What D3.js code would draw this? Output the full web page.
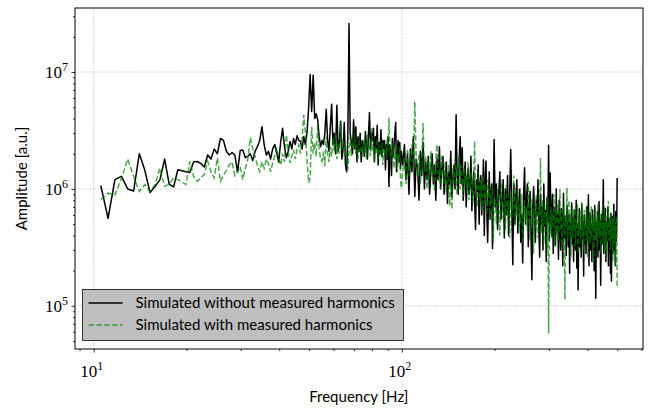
<!DOCTYPE html>
<html>
<head>
<meta charset="utf-8">
<script src="https://cdn.jsdelivr.net/npm/d3@7"></script>
<style>
  html, body { margin: 0; padding: 0; background: #fff; }
  svg { display: block; }
  .lbl { font-family: Lato, "Noto Sans", sans-serif; fill: #000; }
  .tick-lbl { font-family: "Liberation Serif", "DejaVu Serif", serif; fill: #000; }
</style>
</head>
<body>
<div class="svg"></div>
<script>
// spectrum bins (resolution in Hz), sampled more sparsely at high frequency
const binWidth = 0.586;
const binsLow = d3.range(18, 171);
const binsMid = d3.range(172, 341, 2);
const binsHigh = d3.range(343, 854, 3);

// amplitudes in units of 1e5
const blackLow = [
  10.7, 5.6, 12, 12.8, 10, 9.6, 20, 14.5, 9.3, 10.5, 12, 18,
  11, 10.4, 14.6, 14.3, 14, 13.8, 17, 17.2, 16.5, 15.4,
  19.5, 18, 22, 20, 27, 26, 21, 19.5, 20.5, 19.5,
  14, 21.3, 21.5, 18.5, 19, 20, 17.5, 21, 23, 26,
  34, 24, 19.5, 21, 18, 22, 24, 20.5, 17, 25,
  33, 23, 18.5, 21, 25.5, 22, 27, 24, 28.5, 26,
  25.5, 22, 28, 24, 30, 48, 95, 46, 94, 40,
  44, 39, 28, 23, 26, 24, 30, 48, 26, 21,
  34, 53, 24, 30, 20, 52, 21, 25, 38, 18,
  22, 37, 16, 14, 28, 260, 30, 25, 20, 39,
  22, 34, 17, 28, 21, 30, 17, 26, 23, 19,
  31, 24, 18, 29, 45, 22, 30, 26, 33, 17,
  28, 22, 35, 16, 25, 20, 32, 19, 26, 22,
  26, 14.6, 24, 18, 28, 10.5, 24, 20, 13, 27,
  19, 23, 30, 37, 14, 22, 26, 17, 25, 15,
  21
];
const blackMid = [
  16, 24, 12, 20, 9, 22, 14, 28, 8.6, 18,
  15, 8, 21, 13, 25, 10, 17, 12, 19, 9,
  14, 20, 11, 16, 8, 18, 12, 23, 10, 15,
  19, 9, 13, 17, 7.5, 14, 11, 21, 8.5, 12,
  16, 10, 43, 13, 9, 18, 28, 11, 22.5, 8,
  13, 17, 7, 12, 15, 9, 11, 19, 6.5, 10,
  14, 8, 4.5, 12, 9.5, 16, 5, 11, 13, 6,
  9, 17.8, 4, 12, 17.3, 6.5, 3.5, 7.5, 14, 5.5,
  9, 11, 3.1, 8, 26.5
];
const blackHigh = [
  7, 11, 4.5, 9, 14, 5.5, 8, 12, 3.8, 10,
  6, 13, 4, 9, 21.7, 7, 2.25, 11, 5, 8.5,
  12, 4.2, 7.5, 10, 3.5, 6, 2.33, 9, 15.2, 5,
  8, 11, 3.2, 6.5, 9.5, 4, 1.67, 7, 10.5, 5.5,
  3.5, 8, 6, 12, 4.5, 2.6, 9, 5, 7, 3,
  11, 4.8, 6.5, 2.4, 8.5, 5.2, 23.6, 3.6, 13.7, 6,
  4, 9, 2.8, 7, 5, 3.3, 10, 4.4, 6.2, 2.5,
  8, 4.6, 3, 6.8, 5.4, 2.2, 9.2, 3.8, 5.8, 4.2,
  2.7, 7.2, 4.8, 3.2, 6, 1.9, 5.2, 4, 7.6, 3.4,
  5.6, 2.4, 6.6, 4.2, 3, 8, 2.1, 5, 1.37, 4.6,
  6.8, 3.2, 4.4, 2.6, 7.4, 3.8, 5.2, 1.8, 6, 3.4,
  4.8, 2.8, 7, 3.6, 5.4, 8.9, 2.2, 4.4, 6.2, 3,
  5, 2.4, 6.6, 3.8, 4.6, 2, 7.2, 3.2, 1.16, 5.2,
  3.6, 6.4, 2.6, 4.8, 7.8, 3, 5.4, 1.5, 4.2, 6,
  3.4, 5, 12, 2.8, 4.6, 3.8, 6.8, 2.4, 5.2, 3.6,
  4.4, 7, 2.2, 5.6, 3.2, 4.8, 1.9, 6.2, 1.62, 4,
  5.8, 2.8, 4.4, 7.4, 3, 5, 2.2, 6.4, 3.6, 4.6,
  12.4
];

const greenLow = [
  8.1, 9.2, 8.9, 12.3, 18, 12.8, 9.5, 10.9, 9.5, 10.9, 15, 10.5,
  11, 12.4, 12, 11.5, 10.9, 17.2, 12.8, 11.6, 12.5, 13.3,
  17.2, 14, 12.4, 18.4, 11.6, 13, 14.5, 16, 17, 13,
  14, 15.5, 12, 15, 18, 27.4, 22, 19, 16, 14.1,
  17, 15, 18, 16.5, 14, 16.7, 19, 22.5, 18, 16,
  20, 17, 29, 21, 16.7, 19, 21.7, 18, 22, 24,
  20, 26.5, 43, 30, 18, 11.3, 12.4, 34, 20, 24.8,
  19, 35, 22, 18, 17.2, 21, 15.6, 28, 20, 17,
  23, 19, 27.4, 21, 30, 18, 24, 20, 38, 22,
  26, 19, 23, 17, 14.6, 21, 28, 19, 25, 22,
  30, 20, 24, 18, 27, 21, 23, 19, 26, 20,
  25, 18, 29, 22, 24, 19, 33, 21, 26, 17,
  23, 20, 27, 18, 24, 21, 19, 25, 16, 22,
  20, 24, 18, 27, 21, 40.6, 23, 17, 22, 19,
  25, 15, 21, 18, 24, 14, 20, 17, 23, 12,
  10.2
];
const greenMid = [
  14, 19, 11, 22, 13, 17, 24, 15, 56, 18,
  13, 20, 11, 16, 36.7, 14, 19, 10, 17, 12,
  21, 13, 16, 9.5, 18, 24, 12, 15, 10, 19,
  14, 11, 17, 9, 13, 16, 7.1, 12, 6.7, 15,
  11, 18, 13, 9, 14, 20, 10, 16, 12, 8.5,
  15, 11, 13, 9, 17, 8, 12, 14, 10, 7.5,
  13, 25.6, 9, 11, 7, 14, 10, 8, 12, 6.5,
  10, 13, 7.5, 11, 9, 6, 12, 8.5, 10, 5.5,
  9, 7.5, 11, 3.5, 8
];
const greenHigh = [
  8, 5, 10, 6.5, 4, 12, 7, 5.5, 9, 4.5,
  11, 6, 8, 3.8, 9.5, 5.5, 7, 13, 4.8, 8.5,
  6, 10, 4.2, 7.5, 5, 9, 3.4, 6.5, 8, 5.2,
  7, 4.4, 11.6, 6, 3.6, 8.2, 5, 6.8, 2.8, 7.5,
  4.6, 9, 5.5, 3.8, 7, 6, 18.4, 4.2, 8, 5,
  3.4, 7.6, 5.4, 6.4, 2.9, 8.6, 0.58, 5.8, 4.2, 7,
  3.8, 6.2, 4.8, 9, 3.2, 5.6, 6.8, 4, 7.4, 3.6,
  5.2, 10, 4.4, 6.6, 3, 5.8, 7.2, 4.2, 1.13, 6,
  4.8, 10.2, 3.6, 5.4, 8, 4, 6.2, 2.6, 5, 7,
  3.8, 5.6, 4.4, 6.8, 3.2, 5.2, 4.6, 7.4, 2.8, 5.8,
  4.2, 6.4, 3.4, 5, 7.8, 4, 5.6, 3, 6.6, 4.4,
  5.2, 3.6, 7, 4.8, 2.6, 5.8, 4.2, 6.4, 3.4, 5,
  7.2, 3.8, 5.4, 4.4, 6, 2.4, 5, 6.8, 3.6, 4.8,
  5.6, 3.2, 7.4, 4.2, 5, 3.8, 6.2, 2.8, 5.4, 4.6,
  6.6, 3.4, 5.2, 4, 7, 3, 4.8, 5.8, 2.6, 5,
  4.4, 6.2, 7.9, 3.6, 5.4, 4.2, 3, 6, 4.6, 3.8,
  5.6, 2.4, 4.8, 6.4, 3.4, 5.2, 4, 2.2, 5.8, 4.4,
  1.47
];

const seriesNames = ["Simulated without measured harmonics", "Simulated with measured harmonics"];
const xMajorTicks = [10, 100];
const yMajorTicks = [1e5, 1e6, 1e7];
const xTickExp = ["1", "2"];
const yTickExp = ["5", "6", "7"];

const size = { width: 648, height: 411 };
const margin = { top: 8, right: 5, bottom: 62, left: 75 };

const freqs = [...binsLow, ...binsMid, ...binsHigh].map((k) => k * binWidth);
const toPoints = (vals) => vals.map((v, i) => ({ f: freqs[i], a: v * 1e5 }));
const black = toPoints([...blackLow, ...blackMid, ...blackHigh]);
const green = toPoints([...greenLow, ...greenMid, ...greenHigh]);

// matplotlib style 5% margins in log space
function logDomain(vals) {
  const lo = Math.log10(d3.min(vals));
  const hi = Math.log10(d3.max(vals));
  const pad = (hi - lo) * 0.05;
  return [Math.pow(10, lo - pad), Math.pow(10, hi + pad)];
}

const innerW = size.width - margin.left - margin.right;
const innerH = size.height - margin.top - margin.bottom;

const x = d3.scaleLog().domain(logDomain(freqs)).range([0, innerW]);
const y = d3
  .scaleLog()
  .domain(logDomain([...black, ...green].map((d) => d.a)))
  .range([innerH, 0]);

const svg = d3
  .select(".svg")
  .append("svg")
  .attr("width", size.width)
  .attr("height", size.height);

const g = svg.append("g").attr("transform", `translate(${margin.left},${margin.top})`);

g.append("clipPath")
  .attr("id", "plot-clip")
  .append("rect")
  .attr("width", innerW)
  .attr("height", innerH);

function minorTicks(scale) {
  const [lo, hi] = scale.domain();
  const out = [];
  for (let e = Math.floor(Math.log10(lo)); e <= Math.ceil(Math.log10(hi)); e++) {
    for (let m = 2; m <= 9; m++) {
      const v = m * Math.pow(10, e);
      if (v >= lo && v <= hi) out.push(v);
    }
  }
  return out;
}

// grid
g.append("g")
  .selectAll("line")
  .data(xMajorTicks)
  .join("line")
  .attr("x1", (d) => x(d))
  .attr("x2", (d) => x(d))
  .attr("y1", 0)
  .attr("y2", innerH)
  .attr("stroke", "#b0b0b0")
  .attr("stroke-width", 0.8)
  .attr("stroke-dasharray", "1,1.5");

g.append("g")
  .selectAll("line")
  .data(yMajorTicks)
  .join("line")
  .attr("x1", 0)
  .attr("x2", innerW)
  .attr("y1", (d) => y(d))
  .attr("y2", (d) => y(d))
  .attr("stroke", "#b0b0b0")
  .attr("stroke-width", 0.8)
  .attr("stroke-dasharray", "1,1.5");

// lines
const line = d3
  .line()
  .x((d) => x(d.f))
  .y((d) => y(d.a));

const lines = g.append("g").attr("clip-path", "url(#plot-clip)");

lines
  .append("path")
  .datum(black)
  .attr("d", line)
  .attr("fill", "none")
  .attr("stroke", "#000")
  .attr("stroke-width", 1.5)
  .attr("stroke-linejoin", "round");

lines
  .append("path")
  .datum(green)
  .attr("d", line)
  .attr("fill", "none")
  .attr("stroke", "#008000")
  .attr("stroke-opacity", 0.7)
  .attr("stroke-width", 1.5)
  .attr("stroke-dasharray", "5.5,2.4");

// axes
function drawAxis(axis, sel) {
  sel.call(axis);
  sel.select(".domain").remove();
  sel.selectAll(".tick line").attr("stroke", "#000").attr("stroke-width", 0.8);
}

drawAxis(
  d3.axisBottom(x).tickValues(minorTicks(x)).tickSize(2).tickFormat(""),
  g.append("g").attr("transform", `translate(0,${innerH})`)
);
drawAxis(
  d3.axisBottom(x).tickValues(xMajorTicks).tickSize(3.5).tickFormat(""),
  g.append("g").attr("transform", `translate(0,${innerH})`)
);
drawAxis(d3.axisLeft(y).tickValues(minorTicks(y)).tickSize(2).tickFormat(""), g.append("g"));
drawAxis(d3.axisLeft(y).tickValues(yMajorTicks).tickSize(3.5).tickFormat(""), g.append("g"));

// tick labels 10^n
xMajorTicks.forEach((t, i) => {
  const txt = g
    .append("text")
    .attr("class", "tick-lbl")
    .attr("x", x(t) - 2)
    .attr("y", innerH + 28)
    .attr("text-anchor", "middle")
    .attr("font-size", 17);
  txt.append("tspan").text("10");
  txt.append("tspan").attr("dy", -7).attr("font-size", 12).text(xTickExp[i]);
});

yMajorTicks.forEach((t, i) => {
  const txt = g
    .append("text")
    .attr("class", "tick-lbl")
    .attr("x", -7)
    .attr("y", y(t) + 6)
    .attr("text-anchor", "end")
    .attr("font-size", 17);
  txt.append("tspan").text("10");
  txt.append("tspan").attr("dy", -7).attr("font-size", 12).text(yTickExp[i]);
});

// frame
g.append("rect")
  .attr("width", innerW)
  .attr("height", innerH)
  .attr("fill", "none")
  .attr("stroke", "#000")
  .attr("stroke-width", 1);

// axis titles
svg
  .append("text")
  .attr("class", "lbl")
  .attr("x", margin.left + x(100) - 43)
  .attr("y", 402)
  .attr("text-anchor", "middle")
  .attr("font-size", 15)
  .text("Frequency [Hz]");

svg
  .append("text")
  .attr("class", "lbl")
  .attr("transform", `translate(27,${margin.top + innerH / 2}) rotate(-90)`)
  .attr("text-anchor", "middle")
  .attr("font-size", 15)
  .text("Amplitude [a.u.]");

// legend
const legend = svg.append("g").attr("transform", "translate(82.5,289.5)");

legend
  .append("rect")
  .attr("width", 321)
  .attr("height", 51)
  .attr("fill", "#bfbfbf")
  .attr("stroke", "#333")
  .attr("stroke-width", 1);

seriesNames.forEach((name, i) => {
  const ly = 13.5 + i * 22;
  legend
    .append("line")
    .attr("x1", 6)
    .attr("x2", 40)
    .attr("y1", ly)
    .attr("y2", ly)
    .attr("stroke", i === 0 ? "#000" : "#008000")
    .attr("stroke-opacity", i === 0 ? 1 : 0.7)
    .attr("stroke-width", 1.5)
    .attr("stroke-dasharray", i === 0 ? null : "5.5,2.4");
  legend
    .append("text")
    .attr("class", "lbl")
    .attr("x", 53)
    .attr("y", ly + 5)
    .attr("font-size", 15)
    .text(name);
});
</script>
</body>
</html>
